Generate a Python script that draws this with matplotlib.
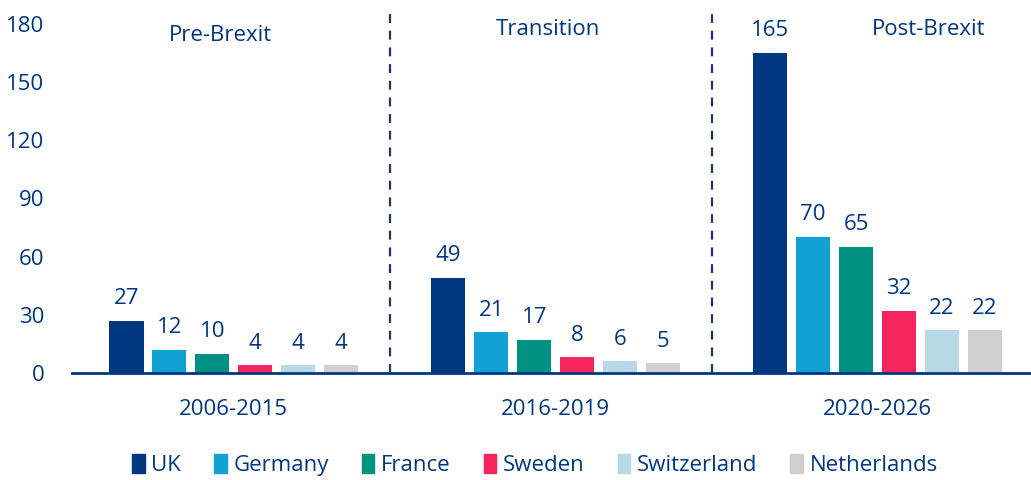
import numpy as np
import matplotlib.pyplot as plt
from matplotlib.patches import Patch

# Periods and countries
periods = ['2006-2015', '2016-2019', '2020-2026']
countries = ['UK', 'Germany', 'France', 'Sweden', 'Switzerland', 'Netherlands']
uk = [27, 49, 165]
germany = [12, 21, 70]
france = [10, 17, 65]
sweden = [4, 8, 32]
switzerland = [4, 6, 22]
netherlands = [4, 5, 22]
phase_labels = ['Pre-Brexit', 'Transition', 'Post-Brexit']

series = [uk, germany, france, sweden, switzerland, netherlands]
colours = ['#003781', '#13a0d3', '#009183', '#f5245a', '#b6d9e5', '#cfcfcf']
txt = '#003781'

plt.rcParams['font.family'] = ['Open Sans', 'DejaVu Sans']
fs = 16

fig = plt.figure(figsize=(10.31, 4.8), dpi=100)
ax = fig.add_axes([72/1031, 107/480, 959/1031, 365/480])

x = np.arange(len(periods))
step = 0.1335
width = 0.106
for i, (vals, col) in enumerate(zip(series, colours)):
    pos = x + (i - 2.5) * step
    ax.bar(pos, vals, width=width, color=col, label=countries[i])
    for p, v in zip(pos, vals):
        ax.text(p, v + 6, str(v), ha='center', va='bottom', fontsize=fs, color=txt)

# dividers between phases
for xd in [0.485, 1.485]:
    ax.axvline(xd, color='#1c3566', lw=1.6, ls=(0, (4, 3.5)))

# phase labels
ax.text(-0.04, 174, phase_labels[0], ha='center', va='center', fontsize=fs, color=txt)
ax.text(0.976, 177, phase_labels[1], ha='center', va='center', fontsize=fs, color=txt)
ax.text(2.16, 177, phase_labels[2], ha='center', va='center', fontsize=fs, color=txt)

ax.set_xlim(-0.503, 2.477)
ax.set_ylim(0, 188)
ax.set_yticks([0, 30, 60, 90, 120, 150, 180])
ax.set_xticks(x)
ax.set_xticklabels(periods)
ax.tick_params(axis='y', length=0, pad=20, labelsize=fs, labelcolor=txt)
ax.tick_params(axis='x', length=0, pad=19, labelsize=fs, labelcolor=txt)

for s in ['top', 'right', 'left']:
    ax.spines[s].set_visible(False)
ax.spines['bottom'].set_color('#003781')
ax.spines['bottom'].set_linewidth(2)

handles = [Patch(color=c, label=n) for c, n in zip(colours, countries)]
leg = fig.legend(handles=handles, loc='center', bbox_to_anchor=(535/1031, 1 - 465/480),
                 ncol=6, frameon=False, fontsize=fs, handlelength=0.55, handleheight=0.95,
                 handletextpad=0.3, columnspacing=1.5)
for t in leg.get_texts():
    t.set_color(txt)

fig.savefig('out.png', dpi=100)
